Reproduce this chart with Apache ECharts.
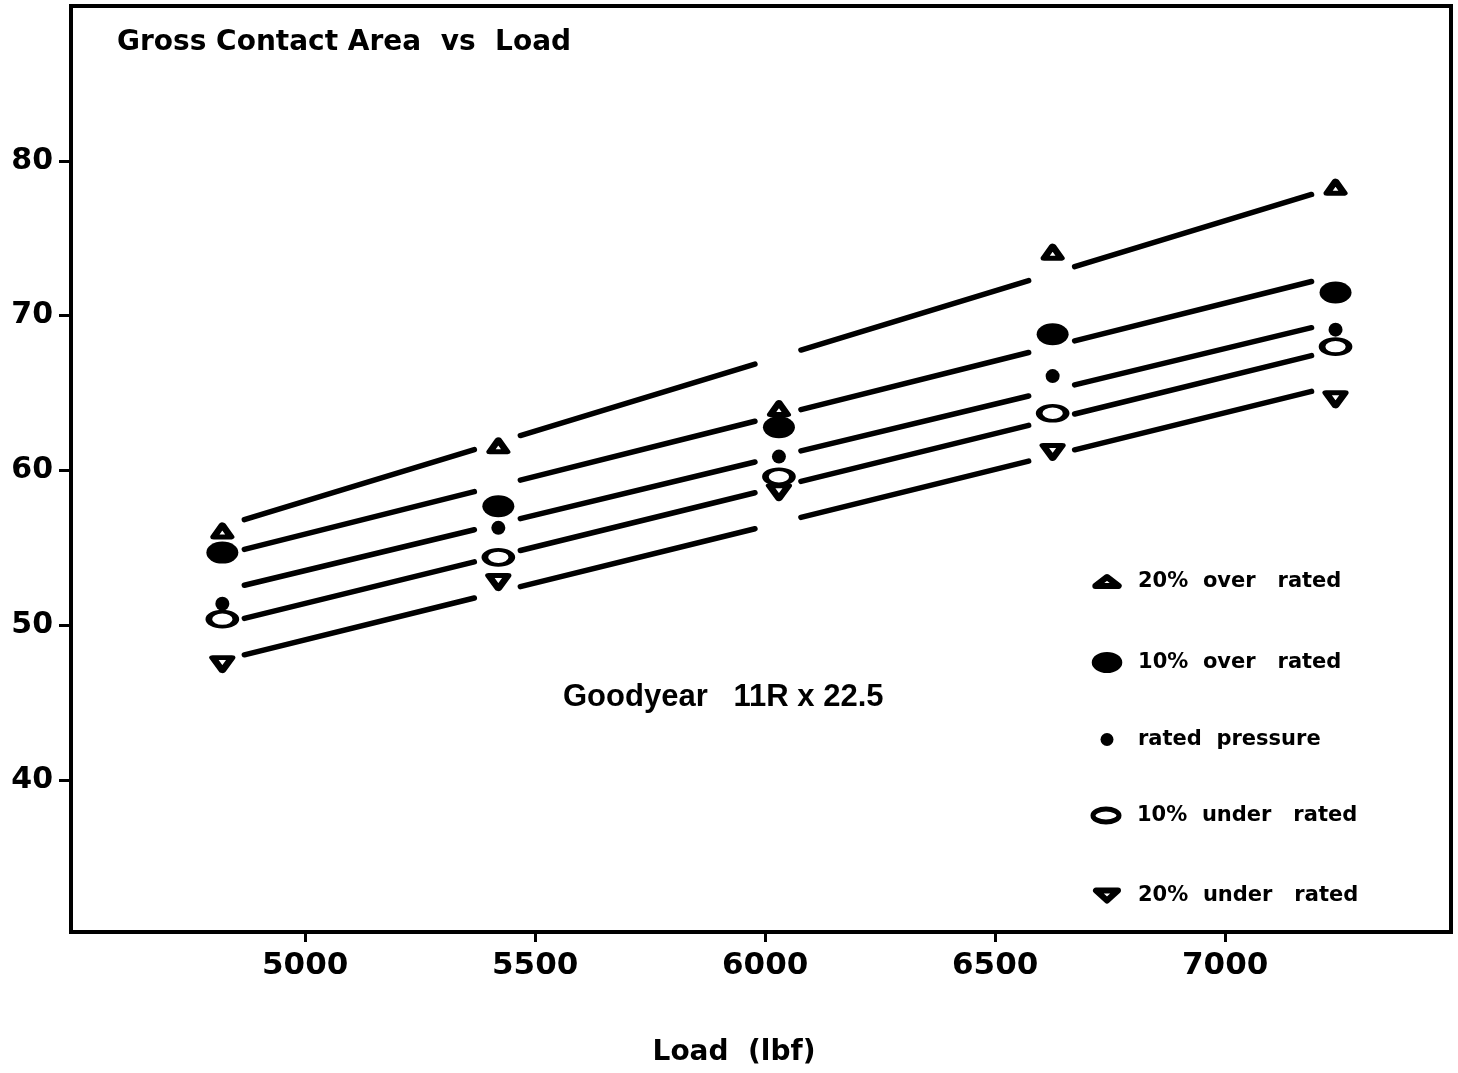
<!DOCTYPE html>
<html>
<head>
<meta charset="utf-8">
<script src="https://cdn.jsdelivr.net/npm/echarts@6/dist/echarts.min.js"></script>
<style>
  html, body { margin: 0; padding: 0; background: #fff; }
  #chart { width: 1458px; height: 1073px; }
</style>
</head>
<body>
<div id="chart"></div>
<script>
// ---- data ----
const loads = [4820, 5420, 6030, 6625, 7240];            // Load (lbf)
const over20  = [56.1, 61.6, 64.0, 74.1, 78.3];
const over10  = [54.7, 57.7, 62.8, 68.8, 71.5];
const rated   = [51.4, 56.3, 60.9, 66.1, 69.1];
const under10 = [50.4, 54.4, 59.6, 63.7, 68.0];
const under20 = [47.5, 52.8, 58.6, 61.2, 64.6];
// fitted straight lines: value at first and last load
const fitOver20  = [56.4, 78.3];
const fitOver10  = [54.55, 72.6];
const fitRated   = [52.25, 69.6];
const fitUnder10 = [50.1, 67.8];
const fitUnder20 = [47.75, 65.5];
const seriesNames = ['20%  over   rated', '10%  over   rated', 'rated  pressure', '10%  under   rated', '20%  under   rated'];
const xTicks = [5000, 5500, 6000, 6500, 7000];
const yTicks = [40, 50, 60, 70, 80];

// ---- symbols ----
const triUp    = 'path://M10,0 L20,14 L0,14 Z';
const triDown  = 'path://M0,0 L20,0 L10,14 Z';
const ellipse  = 'path://M0,11 A16,11 0 1 1 32,11 A16,11 0 1 1 0,11 Z';
const legTriUp   = 'path://M13,0 L26,10 L0,10 Z';
const legTriDown = 'path://M0,0 L22,0 L11,10 Z';
const legRing    = 'path://M0,7 A14,7 0 1 1 28,7 A14,7 0 1 1 0,7 Z';

const FONT = 'DejaVu Sans';
const pair = (xs, ys) => xs.map((x, i) => [x, ys[i]]);

const GAP_AFTER = 22, GAP_BEFORE = 24;
function renderFit(params, api) {
  const p0 = api.coord([api.value(0), api.value(1)]);
  const p1 = api.coord([api.value(2), api.value(3)]);
  const xs = loads.map(l => api.coord([l, api.value(1)])[0]);
  const yAt = x => p0[1] + (x - p0[0]) * (p1[1] - p0[1]) / (p1[0] - p0[0]);
  const children = [];
  for (let i = 0; i < xs.length - 1; i++) {
    const xa = xs[i] + GAP_AFTER, xb = xs[i + 1] - GAP_BEFORE;
    children.push({
      type: 'line',
      shape: { x1: xa, y1: yAt(xa), x2: xb, y2: yAt(xb) },
      style: { stroke: '#000', lineWidth: 5.5, lineCap: 'round' }
    });
  }
  return { type: 'group', children };
}

const fits = [fitOver20, fitOver10, fitRated, fitUnder10, fitUnder20]
  .map(f => [loads[0], f[0], loads[loads.length - 1], f[1]]);

const hollow = { color: '#fff', borderColor: '#000', borderWidth: 5, borderJoin: 'round', opacity: 1 };
const hollowTri = { color: '#fff', borderColor: '#000', borderWidth: 6, borderJoin: 'round', opacity: 1 };
const filled = { color: '#000', borderWidth: 0, opacity: 1 };

// legend layout: icon centre x 1107, row centres from the reference
const ICON_CX = 1107;
const legendTops = [571, 652, 729, 805, 885];
const legendIcons = [legTriUp, ellipse, 'circle', legRing, legTriDown];
const legendHeights = [9, 21, 13, 13, 10];
const legendVisualW = [23.4 + 6, 30.5, 13, 28 + 5, 22 + 6];
const legendBorder = [6, 0, 0, 5, 6];

const chart = echarts.init(document.getElementById('chart'), null, { renderer: 'canvas' });
chart.setOption({
  animation: false,
  backgroundColor: '#fff',
  title: {
    text: 'Gross Contact Area  vs  Load',
    left: 117, top: 29, padding: 0,
    textStyle: { fontFamily: FONT, fontWeight: 'bold', fontSize: 28, lineHeight: 28, color: '#000' }
  },
  grid: {
    left: 71, right: 7, top: 6, bottom: 141,
    show: true, borderColor: '#000', borderWidth: 4, backgroundColor: 'transparent'
  },
  legend: seriesNames.map((n, i) => ({
    data: [{ name: n, icon: legendIcons[i] }],
    orient: 'vertical',
    left: ICON_CX - legendVisualW[i] / 2, top: legendTops[i], padding: 0,
    itemWidth: 52, itemHeight: legendHeights[i],
    selectedMode: false,
    itemStyle: { borderWidth: legendBorder[i], opacity: 1 },
    textStyle: { fontFamily: FONT, fontWeight: 'bold', fontSize: 21, lineHeight: 21, color: '#000' }
  })),
  xAxis: {
    type: 'value', min: 4491, max: 7491,
    name: 'Load  (lbf)', nameLocation: 'middle', nameGap: 107,
    nameTextStyle: { fontFamily: FONT, fontWeight: 'bold', fontSize: 28, color: '#000', padding: [0, 54, 0, 0] },
    axisLine: { show: true, onZero: false, lineStyle: { color: '#000', width: 4 } },
    axisTick: { show: true, customValues: xTicks, length: 10, lineStyle: { color: '#000', width: 3 } },
    axisLabel: { customValues: xTicks, formatter: v => String(v), margin: 18,
      fontFamily: FONT, fontWeight: 'bold', fontSize: 31, color: '#000' },
    splitLine: { show: false }
  },
  yAxis: {
    type: 'value', min: 30.2, max: 90,
    axisLine: { show: true, onZero: false, lineStyle: { color: '#000', width: 4 } },
    axisTick: { show: true, customValues: yTicks, length: 12, lineStyle: { color: '#000', width: 3 } },
    axisLabel: { customValues: yTicks, formatter: v => String(v), margin: 18,
      fontFamily: FONT, fontWeight: 'bold', fontSize: 30, color: '#000' },
    splitLine: { show: false }
  },
  graphic: [{
    type: 'text', left: 563, top: 682,
    style: { text: 'Goodyear   11R x 22.5', font: 'bold 31px "Liberation Sans"', fill: '#000' }
  }],
  series: [
    {
      type: 'custom', name: 'fit', renderItem: renderFit, data: fits,
      encode: { x: [0, 2], y: [1, 3] }, silent: true, z: 1
    },
    { type: 'scatter', name: seriesNames[0], data: pair(loads, over20), symbol: triUp, symbolSize: [17, 12], itemStyle: hollowTri, z: 3 },
    { type: 'scatter', name: seriesNames[1], data: pair(loads, over10), symbol: ellipse, symbolSize: [32, 22], itemStyle: filled, z: 2 },
    { type: 'scatter', name: seriesNames[2], data: pair(loads, rated), symbol: 'circle', symbolSize: 14, itemStyle: filled, z: 3 },
    { type: 'scatter', name: seriesNames[3], data: pair(loads, under10), symbol: ellipse, symbolSize: [27, 15], itemStyle: hollow, z: 2 },
    { type: 'scatter', name: seriesNames[4], data: pair(loads, under20), symbol: triDown, symbolSize: [19, 13], itemStyle: hollowTri, z: 3 }
  ]
});
</script>
</body>
</html>
